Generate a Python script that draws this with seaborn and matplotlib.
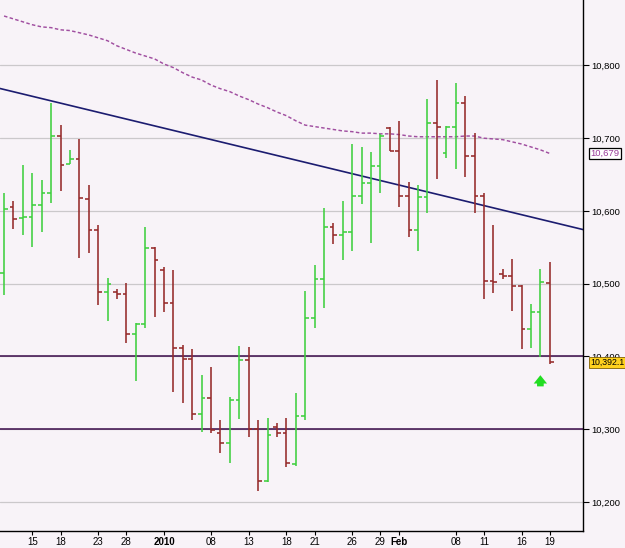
import numpy as np
import pandas as pd
import matplotlib
matplotlib.use("Agg")
import matplotlib.pyplot as plt
import matplotlib.ticker as mticker
import seaborn as sns

# ---------------- data ----------------
opens = [10515, 10606, 10590, 10592, 10608, 10624, 10703, 10665, 10672, 10617,
         10574, 10489, 10489, 10486, 10431, 10445, 10549, 10519, 10474, 10412,
         10397, 10321, 10343, 10295, 10281, 10340, 10395, 10300, 10229, 10303,
         10295, 10252, 10318, 10453, 10507, 10578, 10567, 10571, 10621, 10639,
         10662, 10714, 10683, 10621, 10574, 10619, 10721, 10679, 10716, 10749,
         10676, 10621, 10504, 10514, 10511, 10497, 10438, 10461, 10501]
highs = [10625, 10614, 10663, 10652, 10643, 10749, 10718, 10684, 10699, 10635,
         10580, 10508, 10493, 10501, 10446, 10578, 10551, 10523, 10519, 10416,
         10410, 10375, 10386, 10313, 10344, 10414, 10413, 10313, 10316, 10309,
         10316, 10350, 10490, 10526, 10604, 10584, 10613, 10692, 10688, 10681,
         10706, 10716, 10723, 10640, 10636, 10754, 10780, 10717, 10776, 10758,
         10707, 10625, 10581, 10520, 10534, 10498, 10472, 10520, 10530]
lows = [10485, 10575, 10567, 10551, 10571, 10611, 10628, 10665, 10535, 10542,
        10471, 10449, 10479, 10419, 10366, 10439, 10454, 10461, 10351, 10336,
        10313, 10296, 10295, 10267, 10254, 10314, 10289, 10215, 10227, 10289,
        10248, 10249, 10313, 10439, 10466, 10555, 10533, 10545, 10610, 10556,
        10624, 10683, 10606, 10564, 10545, 10597, 10644, 10673, 10658, 10646,
        10597, 10479, 10487, 10507, 10463, 10410, 10412, 10399, 10389]
closes = [10602, 10589, 10592, 10608, 10624, 10703, 10663, 10672, 10618, 10574,
          10489, 10500, 10486, 10431, 10445, 10549, 10533, 10474, 10412, 10397,
          10321, 10343, 10299, 10281, 10340, 10395, 10300, 10229, 10292, 10295,
          10254, 10318, 10453, 10507, 10578, 10567, 10571, 10621, 10639, 10662,
          10703, 10683, 10621, 10574, 10619, 10721, 10716, 10716, 10749, 10676,
          10621, 10504, 10503, 10511, 10497, 10438, 10461, 10502, 10392.1]
ma_values = [10868, 10864, 10860, 10856, 10853, 10852, 10849, 10848, 10845, 10842,
             10838, 10834, 10827, 10822, 10817, 10813, 10809, 10802, 10797, 10790,
             10784, 10780, 10773, 10768, 10764, 10758, 10753, 10747, 10742, 10736,
             10731, 10724, 10718, 10716, 10714, 10712, 10710, 10709, 10707, 10707,
             10706, 10706, 10705, 10703, 10702, 10702, 10702, 10702, 10702, 10703,
             10703, 10700, 10699, 10698, 10695, 10692, 10688, 10684, 10679]
tick_positions = [3, 6, 10, 13, 17, 22, 26, 30, 33, 37, 40, 42, 48, 51, 55, 58]
tick_labels = ["15", "18", "23", "28", "2010", "08", "13", "18", "21", "26",
               "29", "Feb", "08", "11", "16", "19"]
bold_labels = ["2010", "Feb"]
y_ticks = [10200, 10300, 10400, 10500, 10600, 10700, 10800]
support_levels = [10400, 10300]
trend_start = 10767      # trendline value at first bar
trend_slope = -3.13      # per bar
ma_label = "10,679"
close_label = "10,392.1"
signal_bar = 57
signal_range = [10355, 10378]

# ---------------- style ----------------
BG = "#f8f3f8"
UP = "#3fcf3f"
DOWN = "#952a2a"
sns.set_theme(style="white", rc={"axes.facecolor": BG, "figure.facecolor": BG})
plt.rcParams["font.family"] = ["Liberation Sans", "DejaVu Sans"]

fig = plt.figure(figsize=(6.25, 5.48), dpi=100)
ax = fig.add_axes([0, 17 / 548, 583 / 625, 531 / 548])

df = pd.DataFrame({"open": opens, "high": highs, "low": lows, "close": closes,
                   "ma": ma_values})
df["idx"] = np.arange(len(df))
colors = np.where(df["close"] >= df["open"], UP, DOWN)

# grid and reference lines
for v in y_ticks:
    ax.axhline(v, color="#cbc8cb", lw=0.9, zorder=0.5)
for lvl in support_levels:
    ax.axhline(lvl, color="#3b0a4a", lw=1.1, zorder=1)

# OHLC bars
w = 0.4
ax.vlines(df["idx"], df["low"], df["high"], colors=colors, lw=1.15, zorder=3)
ax.hlines(df["open"], df["idx"] - w, df["idx"], colors=colors, lw=1.15, zorder=3)
ax.hlines(df["close"], df["idx"], df["idx"] + w, colors=colors, lw=1.15, zorder=3)

# moving average (dashed)
sns.lineplot(data=df, x="idx", y="ma", ax=ax, color="#a04ea0", lw=1.05,
             linestyle=(0, (2.4, 1.6)), zorder=2)

# trendline
ax.axline((0, trend_start), slope=trend_slope, color="#1c1c70", lw=1.2, zorder=2)

# signal arrow
ax.annotate("", xy=(signal_bar, signal_range[1]), xytext=(signal_bar, signal_range[0]),
            arrowprops=dict(arrowstyle="simple,head_length=0.5,head_width=0.8,tail_width=0.4",
                            color="#22dd22", lw=0), zorder=4)

ax.set_xlim(-0.43, 61.53)
ax.set_ylim(10160, 10890)

# axes
ax.yaxis.tick_right()
ax.set_yticks(y_ticks)
ax.yaxis.set_major_formatter(mticker.FuncFormatter(lambda v, p: f"{v:,.0f}"))
ax.tick_params(axis="y", which="major", direction="out", length=4, width=0.8,
               pad=2, labelsize=6.8, colors="black", right=True, left=False)
ax.set_xticks(tick_positions)
ax.set_xticklabels(tick_labels)
for t in ax.get_xticklabels():
    if t.get_text() in bold_labels:
        t.set_fontweight("bold")
ax.tick_params(axis="x", which="major", direction="out", length=3, width=0.8,
               pad=1.5, labelsize=7, colors="black", bottom=True)
ax.set_xlabel("")
ax.set_ylabel("")
for s in ["left", "top"]:
    ax.spines[s].set_visible(False)
for s in ["right", "bottom"]:
    ax.spines[s].set_visible(True)
    ax.spines[s].set_color("black")
    ax.spines[s].set_linewidth(1.0)

# value boxes on the price axis
ax.annotate(ma_label, xy=(1, ma_values[-1]), xycoords=("axes fraction", "data"),
            xytext=(5.3, 0), textcoords="offset points", ha="left", va="center",
            fontsize=6.8, color="#9a3c9a", annotation_clip=False, zorder=10,
            bbox=dict(boxstyle="square,pad=0.15", fc="white", ec="black", lw=0.9))
ax.annotate(close_label, xy=(1, closes[-1]), xycoords=("axes fraction", "data"),
            xytext=(5.0, 0), textcoords="offset points", ha="left", va="center",
            fontsize=6.3, color="black", annotation_clip=False, zorder=10,
            bbox=dict(boxstyle="square,pad=0.12", fc="#ffd21e", ec="#806000", lw=0.6))

fig.savefig("out.png", dpi=100, facecolor=BG)
